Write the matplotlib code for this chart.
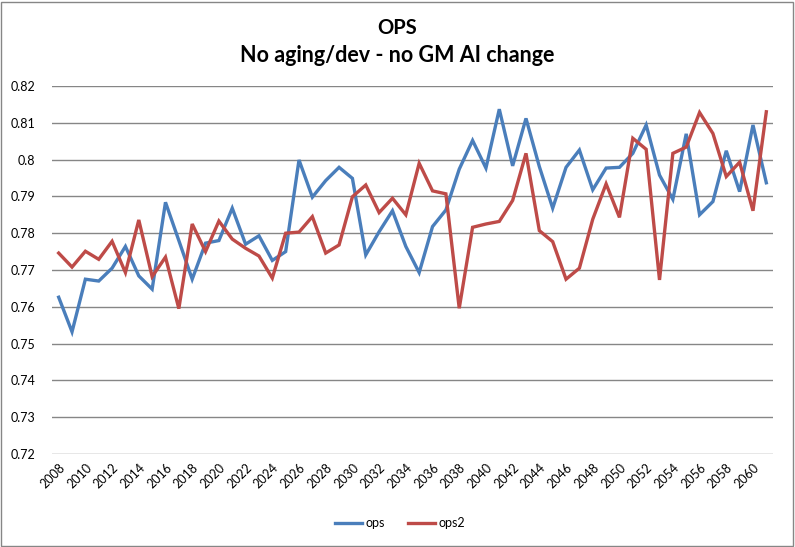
import numpy as np
import matplotlib
matplotlib.use("Agg")
import matplotlib.pyplot as plt
from matplotlib.patches import Rectangle

plt.rcParams['font.family'] = ['Lato', 'DejaVu Sans']

# years on the category axis
years = list(range(2008, 2062))

ops = [0.7626, 0.7532, 0.7675, 0.7670, 0.7705, 0.7764, 0.7684, 0.7648, 0.7884, 0.7780,
       0.7675, 0.7773, 0.7780, 0.7868, 0.7770, 0.7793, 0.7726, 0.7750, 0.7999, 0.7898,
       0.7943, 0.7979, 0.7949, 0.7741, 0.7804, 0.7861, 0.7764, 0.7693, 0.7818, 0.7863,
       0.7974, 0.8052, 0.7977, 0.8137, 0.7983, 0.8112, 0.7981, 0.7868, 0.7979, 0.8026,
       0.7918, 0.7977, 0.7979, 0.8017, 0.8094, 0.7958, 0.7892, 0.8070, 0.7850, 0.7886,
       0.8024, 0.7913, 0.8094, 0.7937]

ops2 = [0.7746, 0.7708, 0.7751, 0.7729, 0.7778, 0.7693, 0.7836, 0.7682, 0.7735, 0.7595,
        0.7825, 0.7750, 0.7833, 0.7784, 0.7759, 0.7738, 0.7678, 0.7800, 0.7803, 0.7845,
        0.7746, 0.7768, 0.7899, 0.7931, 0.7856, 0.7895, 0.7850, 0.7990, 0.7915, 0.7907,
        0.7596, 0.7816, 0.7825, 0.7832, 0.7889, 0.8017, 0.7807, 0.7777, 0.7675, 0.7705,
        0.7838, 0.7934, 0.7843, 0.8058, 0.8028, 0.7673, 0.8017, 0.8034, 0.8128, 0.8071,
        0.7954, 0.7993, 0.7861, 0.8130]

yticks = [0.72, 0.73, 0.74, 0.75, 0.76, 0.77, 0.78, 0.79, 0.8, 0.81, 0.82]
ytick_labels = ['0.72', '0.73', '0.74', '0.75', '0.76', '0.77', '0.78', '0.79', '0.8', '0.81', '0.82']

fig = plt.figure(figsize=(7.95, 5.47), dpi=100)
ax = fig.add_axes([52 / 795, 93 / 547, 721 / 795, 368 / 547])

x = np.arange(len(years))
ax.plot(x, ops, color='#4A7EBB', lw=2.4, label='ops', solid_joinstyle='miter')
ax.plot(x, ops2, color='#BE4B48', lw=2.4, label='ops2', solid_joinstyle='miter')

ax.set_xlim(-0.5, len(years) - 0.5)
ax.set_ylim(0.72, 0.82)
ax.set_yticks(yticks)
ax.set_yticklabels(ytick_labels, fontsize=9)
ax.yaxis.grid(True, color='#868686', lw=1)
ax.set_axisbelow(True)

ax.set_xticks(x[::2])
ax.set_xticklabels([str(y) for y in years[::2]], rotation=45, ha='right', va='top',
                   rotation_mode='anchor', fontsize=9)
ax.tick_params(axis='both', length=0)
ax.tick_params(axis='y', pad=12)
ax.tick_params(axis='x', pad=5)
for s in ax.spines.values():
    s.set_visible(False)

fig.text(0.5, 1 - 28 / 547, 'OPS', ha='center', va='center', fontsize=14.5, fontweight='bold')
fig.text(0.5, 1 - 55 / 547, 'No aging/dev - no GM AI change', ha='center', va='center',
         fontsize=15.5, fontweight='bold')

ax.legend(loc='center', bbox_to_anchor=(400 / 795, 1 - 523 / 547), bbox_transform=fig.transFigure,
          ncol=2, frameon=False, fontsize=9, handlelength=2.2, handletextpad=0.3,
          columnspacing=1.8)

fig.patches.append(Rectangle((1 / 795, 1 / 547), 792 / 795, 544 / 547, transform=fig.transFigure,
                             fill=False, edgecolor='#868686', lw=1))

fig.savefig('out.png', dpi=100)
